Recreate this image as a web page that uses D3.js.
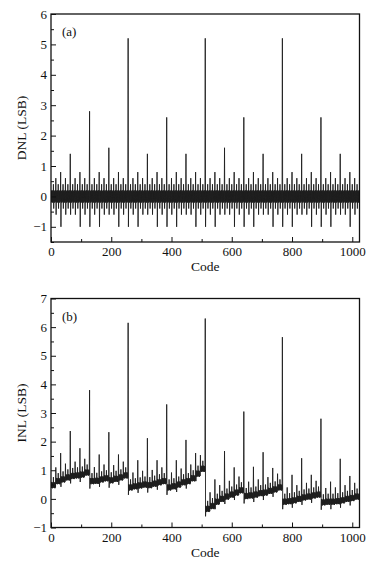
<!DOCTYPE html>
<html><head><meta charset="utf-8">
<script src="https://cdn.jsdelivr.net/npm/d3@7"></script>
<style>
body{margin:0;background:#fff;}
svg{display:block;}
text{font-family:"Liberation Serif","Times New Roman",serif;fill:#111;}
</style></head>
<body><svg id="c" width="381" height="568"></svg>
<script>
// ---------- data ----------
const N = 1024;
const codes = d3.range(N);
const xTicks = [0, 200, 400, 600, 800, 1000];
const xMinor = [100, 300, 500, 700, 900];
const dnlTicks = [-1, 0, 1, 2, 3, 4, 5, 6];
const inlTicks = [-1, 0, 1, 2, 3, 4, 5, 6, 7];

// DNL: background ripple (repeats every 8 codes) and spike heights
const dnlRipple = [0.2, -0.18, 0.19, -0.2, 0.17, -0.2, 0.2, -0.17];
const dnlPeak256 = [5.2, 5.2, 5.2];                       // codes 256, 512, 768
const dnlPeak128 = [2.8, 2.6, 2.6, 2.6];                  // codes 128, 384, 640, 896
const dnlPeak64  = [1.4, 1.6, 1.4, 1.4, 1.6, 1.4, 1.4, 1.4]; // codes 64, 192, ..., 960
const dnlPeakSmall = [0.4, 0.6, 0.8];                      // multiples of 8, 16, 32
const dnlTroughSmall = [-0.4, -0.6, -1.0, -0.6, -1.0];    // after multiples of 8, 16, 32, 64, 128

// INL: band level for each 16-code step, 8 steps per 128-code block
const inlSteps = [
  [0.48, 0.62, 0.68, 0.75, 0.80, 0.82, 0.85, 0.92],
  [0.62, 0.63, 0.68, 0.72, 0.65, 0.70, 0.75, 0.82],
  [0.40, 0.44, 0.47, 0.50, 0.48, 0.53, 0.58, 0.62],
  [0.40, 0.44, 0.50, 0.58, 0.62, 0.72, 0.88, 1.05],
  [-0.35, -0.25, -0.10, 0.00, 0.08, 0.15, 0.22, 0.30],
  [0.10, 0.12, 0.15, 0.20, 0.22, 0.28, 0.33, 0.40],
  [-0.10, -0.08, -0.05, 0.00, 0.05, 0.08, 0.12, 0.15],
  [-0.12, -0.10, -0.10, -0.08, -0.05, 0.00, 0.03, 0.08]
];
const inlRipple = [0.1, -0.09, 0.11, -0.1, 0.08, -0.11, 0.1, -0.08];
const inlPeak128 = [3.8, 6.15, 3.3, 6.3, 3.05, 5.65, 2.8];                 // codes 128..896
const inlPeak64  = [2.37, 2.33, 2.12, 2.06, 1.67, 1.63, 1.42, 1.4];       // codes 64, 192, ..., 960
const inlPeak32  = [1.6, 1.77, 1.55, 1.55, 1.35, 1.35, 1.35, 1.6,
                    0.68, 1.1, 1.12, 1.08, 0.84, 0.84, 0.6, 0.8];          // codes 32, 96, ..., 992
const inlSmallRise = [0.28, 0.48];  // above band at multiples of 8, 16
const inlDip = 0.26;                // below band just after a multiple of 32

// ---------- series ----------
function level(c){ // 0: x8, 1: x16, 2: x32, 3: x64, 4: x128, 5: x256
  if (c % 256 === 0) return 5;
  if (c % 128 === 0) return 4;
  if (c % 64 === 0) return 3;
  if (c % 32 === 0) return 2;
  if (c % 16 === 0) return 1;
  if (c % 8 === 0) return 0;
  return -1;
}
const dnl = codes.map(c => {
  let v = dnlRipple[c % 8];
  const L = c > 0 ? level(c) : -1;
  if (L === 5) v = dnlPeak256[c / 256 - 1];
  else if (L === 4) v = dnlPeak128[(c - 128) / 256];
  else if (L === 3) v = dnlPeak64[(c - 64) / 128];
  else if (L >= 0) v = dnlPeakSmall[L];
  const p = c - 1;
  const Lp = p > 0 ? level(p) : -1;
  if (Lp >= 0) v = dnlTroughSmall[Math.min(Lp, 4)];
  return v;
});
const inl = codes.map(c => {
  const b = Math.floor(c / 128), s = Math.floor((c % 128) / 16);
  const base = inlSteps[b][s];
  let v = base + inlRipple[c % 8];
  const L = c > 0 ? level(c) : -1;
  if (L >= 4) v = inlPeak128[c / 128 - 1];
  else if (L === 3) v = inlPeak64[(c - 64) / 128];
  else if (L === 2) v = inlPeak32[(c - 32) / 64];
  else if (L >= 0) v = base + inlSmallRise[L];
  const p = c - 1;
  if (p > 0 && level(p) >= 2) v = base - inlDip;
  return v;
});

// ---------- drawing ----------
const svg = d3.select("#c");
const left = 51, right = 359.5;

function panel(o){
  const x = d3.scaleLinear().domain([0, 1024]).range([left, right]);
  const y = d3.scaleLinear().domain(o.yDomain).range([o.bottom, o.top]);
  const g = svg.append("g");
  const clipId = "clip" + o.id;
  svg.append("clipPath").attr("id", clipId).append("rect")
    .attr("x", left).attr("y", o.top).attr("width", right - left).attr("height", o.bottom - o.top);
  g.append("path").datum(o.values)
    .attr("clip-path", `url(#${clipId})`)
    .attr("fill", "none").attr("stroke", "#1e1e1e").attr("stroke-width", 0.9)
    .attr("d", d3.line().x((d, i) => x(codes[i])).y(d => y(d)));

  const fmt = d => d < 0 ? "\u2212" + Math.abs(d) : String(d);
  g.append("g").attr("transform", `translate(${left},0)`)
    .call(d3.axisLeft(y).tickValues(o.yTicks).tickSize(-5).tickSizeOuter(0).tickPadding(4).tickFormat(fmt));
  const yMinor = o.yTicks.slice(0, -1).map(t => t + 0.5).concat(o.extraMinor || []);
  g.append("g").attr("transform", `translate(${left},0)`)
    .call(d3.axisLeft(y).tickValues(yMinor).tickSize(-3).tickSizeOuter(0).tickFormat(""));
  g.append("g").attr("transform", `translate(0,${o.bottom})`)
    .call(d3.axisBottom(x).tickValues(xTicks).tickSize(-5).tickSizeOuter(0).tickPadding(5).tickFormat(d3.format("d")));
  g.append("g").attr("transform", `translate(0,${o.bottom})`)
    .call(d3.axisBottom(x).tickValues(xMinor).tickSize(-3).tickSizeOuter(0).tickFormat(""));
  g.selectAll(".domain").remove();
  g.selectAll(".tick line").attr("stroke", "#111").attr("stroke-width", 1);
  g.selectAll(".tick text").style("font-size", "13px").style("font-family", '"Liberation Serif",serif').attr("fill", "#111");
  g.append("rect").attr("x", left).attr("y", o.top).attr("width", right - left).attr("height", o.bottom - o.top)
    .attr("fill", "none").attr("stroke", "#111").attr("stroke-width", 1.3);
  g.append("text").attr("x", 62).attr("y", o.top + 22).style("font-size", "13px").text(o.tag);
  g.append("text").attr("x", (left + right) / 2).attr("y", o.bottom + 29)
    .attr("text-anchor", "middle").style("font-size", "13.5px").text("Code");
  g.append("text").attr("transform", `translate(26,${(o.top + o.bottom) / 2}) rotate(-90)`)
    .attr("text-anchor", "middle").style("font-size", "13.5px").text(o.ylabel);
}

panel({id: "a", values: dnl, yDomain: [-1.5, 6], top: 14, bottom: 242, yTicks: dnlTicks,
       extraMinor: [-1.5], tag: "(a)", ylabel: "DNL (LSB)"});
panel({id: "b", values: inl, yDomain: [-1, 7], top: 298.5, bottom: 527.5, yTicks: inlTicks,
       tag: "(b)", ylabel: "INL (LSB)"});
</script></body></html>
